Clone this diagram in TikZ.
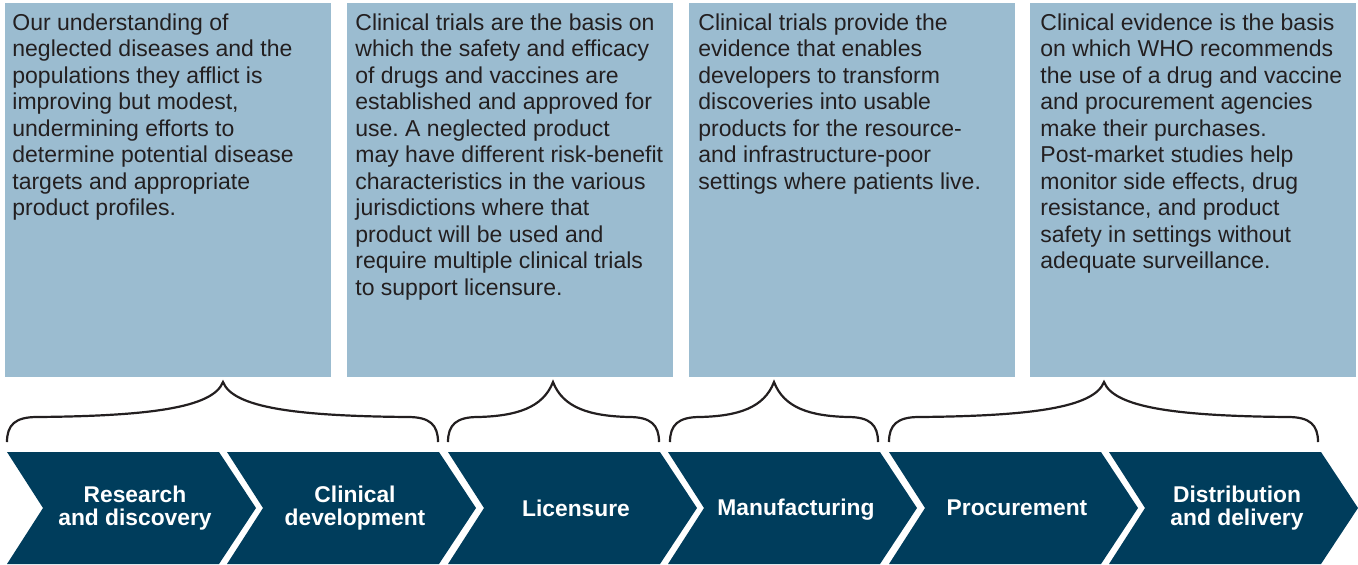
\documentclass[tikz,border=0pt]{standalone}
\usepackage{fontspec}
\setmainfont{Liberation Sans}
\definecolor{boxblue}{HTML}{9BBCD0}
\definecolor{stagenavy}{HTML}{003D5C}
\definecolor{inkgrey}{HTML}{231F20}
\frenchspacing
\begin{document}
\begin{tikzpicture}[x=0.5pt,y=-0.5pt]
 \tikzset{infobox/.style={fill=boxblue, anchor=north west, minimum width=163pt, minimum height=187pt, inner sep=0pt},
  infotext/.style={anchor=north west, align=left, inner sep=0pt, text=inkgrey, font=\fontsize{11.5}{13.25}\selectfont},
  stage/.style={fill=stagenavy},
  stagelabel/.style={text=white, align=center, font=\bfseries\fontsize{11.4}{11.8}\selectfont},
  brace/.style={draw=inkgrey, line width=1.1pt}}
  \useasboundingbox (0,0) rectangle (1358,564);
  \node[infobox] (box1) at (5,3) {};
  \node[infobox] (box2) at (347,3) {};
  \node[infobox] (box3) at (689,3) {};
  \node[infobox] (box4) at (1030,3) {};
  \node[infotext] (txt1) at (12,13) {Our understanding of\\neglected diseases and the\\populations they afflict is\\improving but modest,\\undermining efforts to\\determine potential disease\\targets and appropriate\\product profiles.};
  \node[infotext] (txt2) at (355,13) {Clinical trials are the basis on\\which the safety and efficacy\\of drugs and vaccines are\\established and approved for\\use. A neglected product\\may have different risk-benefit\\characteristics in the various\\jurisdictions where that\\product will be used and\\require multiple clinical trials\\to support licensure.};
  \node[infotext] (txt3) at (698,13) {Clinical trials provide the\\evidence that enables\\developers to transform\\discoveries into usable\\products for the resource-\\and infrastructure-poor\\settings where patients live.};
  \node[infotext] (txt4) at (1040,13) {Clinical evidence is the basis\\on which WHO recommends\\the use of a drug and vaccine\\and procurement agencies\\make their purchases.\\Post-market studies help\\monitor side effects, drug\\resistance, and product\\safety in settings without\\adequate surveillance.};
  \draw[brace] (7,442) .. controls (7,425) and (15,417) .. (37,417) .. controls (148,416) and (213,408) .. (223,382) .. controls (233,408) and (298,416) .. (408,417) .. controls (430,417) and (438,425) .. (438,442);
  \draw[brace] (448,442) .. controls (448,425) and (456,417) .. (478,417) .. controls (516,416) and (543,408) .. (553,382) .. controls (563,408) and (590,416) .. (629,417) .. controls (651,417) and (659,425) .. (659,442);
  \draw[brace] (670,442) .. controls (670,425) and (678,417) .. (700,417) .. controls (738,416) and (764,408) .. (774,382) .. controls (784,408) and (810,416) .. (848,417) .. controls (870,417) and (878,425) .. (878,442);
  \draw[brace] (889,442) .. controls (889,425) and (897,417) .. (919,417) .. controls (1029,416) and (1094,408) .. (1104,382) .. controls (1114,408) and (1179,416) .. (1288,417) .. controls (1310,417) and (1318,425) .. (1318,442);
  \path[stage] (7,452) -- (219,452) -- (256,508) -- (219,564) -- (7,564) -- (43,508) -- cycle;
  \path[stage] (227,452) -- (439,452) -- (476,508) -- (439,564) -- (227,564) -- (263,508) -- cycle;
  \path[stage] (448,452) -- (660,452) -- (697,508) -- (660,564) -- (448,564) -- (484,508) -- cycle;
  \path[stage] (668,452) -- (880,452) -- (917,508) -- (880,564) -- (668,564) -- (704,508) -- cycle;
  \path[stage] (889,452) -- (1101,452) -- (1138,508) -- (1101,564) -- (889,564) -- (925,508) -- cycle;
  \path[stage] (1109,452) -- (1321,452) -- (1358,508) -- (1321,564) -- (1109,564) -- (1145,508) -- cycle;
  \node[stagelabel] (research) at (135,508) {Research\\and discovery};
  \node[stagelabel] (clinical) at (355,508) {Clinical\\development};
  \node[stagelabel] (licensure) at (576,508) {Licensure};
  \node[stagelabel] (manufacturing) at (796,510) {Manufacturing};
  \node[stagelabel] (procurement) at (1017,508) {Procurement};
  \node[stagelabel] (distribution) at (1237,508) {Distribution\\and delivery};
\end{tikzpicture}
\end{document}
